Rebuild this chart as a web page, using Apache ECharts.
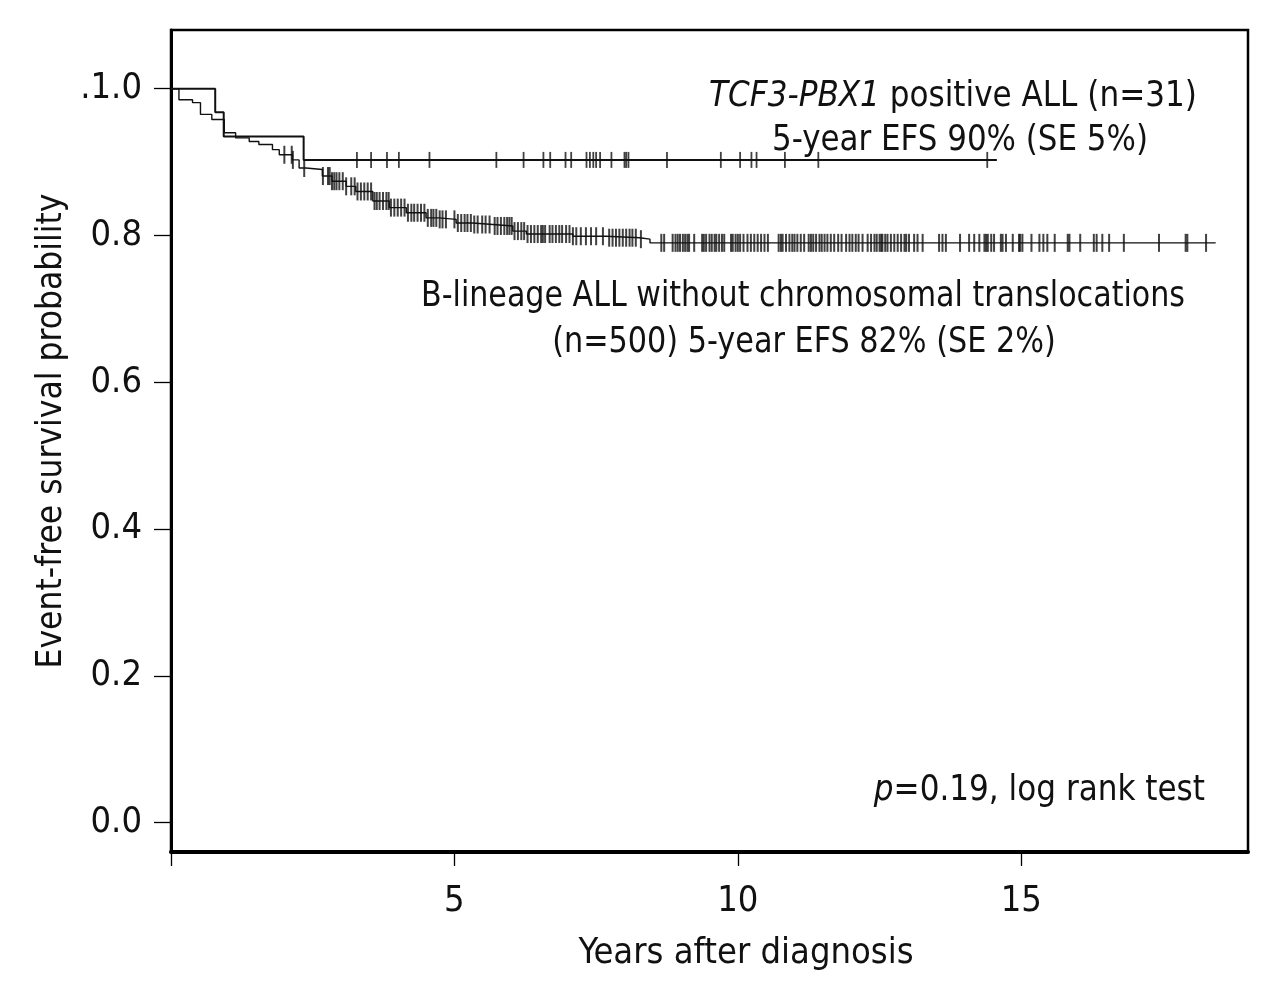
<!DOCTYPE html>
<html>
<head>
<meta charset="utf-8">
<script src="https://cdn.jsdelivr.net/npm/echarts@6/dist/echarts.min.js"></script>
<style>
html,body{margin:0;padding:0;background:#fff;}
#chart{width:1280px;height:991px;}
</style>
</head>
<body>
<div id="chart"></div>
<script>
// Kaplan-Meier step data: [years, survival after event]
const tcfEvents = [[0, 1.0], [0.78, 0.968], [0.93, 0.935], [2.34, 0.903], [14.57, 0.903]];
const tcfCensored = [3.28, 3.53, 3.81, 4.02, 4.56, 5.74, 6.22, 6.57, 6.69, 6.96, 7.06, 7.33, 7.39, 7.45, 7.50, 7.57, 7.77, 8.00, 8.03, 8.07, 8.75, 9.70, 10.04, 10.24, 10.33, 10.83, 11.42, 14.40];

const bEvents = [[0, 1.0], [0.14, 0.985], [0.38, 0.981], [0.52, 0.965], [0.72, 0.958], [0.94, 0.940], [1.14, 0.933], [1.38, 0.928], [1.55, 0.924], [1.79, 0.917], [1.91, 0.910], [2.14, 0.903], [2.26, 0.892], [2.38, 0.890], [2.67, 0.881], [2.84, 0.874], [3.09, 0.867], [3.26, 0.860], [3.56, 0.847], [3.85, 0.838], [4.15, 0.831], [4.50, 0.824], [4.73, 0.822], [5.03, 0.817], [5.32, 0.815], [5.68, 0.813], [6.03, 0.806], [6.27, 0.802], [7.09, 0.799], [7.68, 0.797], [8.27, 0.795], [8.45, 0.790], [18.43, 0.790]];
const bCensored = [2.00, 2.13, 2.15, 2.35, 2.68, 2.77, 2.80, 2.84, 2.88, 2.92, 2.97, 3.03, 3.09, 3.18, 3.24, 3.29, 3.35, 3.41, 3.47, 3.53, 3.59, 3.63, 3.68, 3.74, 3.80, 3.84, 3.88, 3.94, 4.00, 4.06, 4.12, 4.18, 4.24, 4.29, 4.35, 4.41, 4.47, 4.53, 4.59, 4.63, 4.68, 4.74, 4.79, 4.85, 5.00, 5.06, 5.12, 5.18, 5.23, 5.29, 5.35, 5.41,
  5.49, 5.55, 5.62, 5.71, 5.76, 5.82, 5.88, 5.93, 5.97, 6.01, 6.06, 6.12, 6.18, 6.23, 6.29, 6.35, 6.41, 6.47, 6.53, 6.56, 6.60, 6.68, 6.73, 6.79, 6.85, 6.90, 6.97, 7.03, 7.09, 7.15, 7.23, 7.32, 7.41, 7.50, 7.62, 7.73, 7.79, 7.85, 7.91, 7.97, 8.03, 8.09, 8.14, 8.20, 8.29,
  8.65, 8.70, 8.85, 8.90, 8.94, 8.98, 9.03, 9.07, 9.11, 9.14, 9.23, 9.37, 9.40, 9.44, 9.50, 9.54, 9.59, 9.62, 9.67, 9.72, 9.76, 9.88, 9.91, 9.96, 10.00, 10.04, 10.10, 10.17, 10.23, 10.29, 10.35, 10.41, 10.47, 10.53, 10.72, 10.76, 10.79, 10.85, 10.91, 10.96, 11.00, 11.05, 11.11, 11.17, 11.25, 11.29, 11.33, 11.38, 11.44, 11.48, 11.53, 11.58, 11.64, 11.70,
  11.77, 11.83, 11.91, 11.97, 12.02, 12.08, 12.13, 12.20, 12.29, 12.35, 12.41, 12.45, 12.50, 12.53, 12.55, 12.60, 12.64, 12.70, 12.76, 12.82, 12.88, 12.94, 12.97, 13.02, 13.11, 13.17, 13.26, 13.55, 13.61, 13.67, 13.92, 14.08, 14.17, 14.26, 14.35, 14.38, 14.41, 14.47, 14.52, 14.64, 14.67, 14.73, 14.85, 14.96,
  14.98, 15.02, 15.18, 15.32, 15.39, 15.46, 15.59, 15.82, 15.85, 16.04, 16.28, 16.33, 16.43, 16.55, 16.81, 17.43, 17.90, 17.93, 18.26];

const yTicks = [0, 0.2, 0.4, 0.6, 0.8, 1.0];
const yTickLabels = ['0.0', '0.2', '0.4', '0.6', '0.8', '.1.0'];
const xTicks = [0, 5, 10, 15];
const xTickLabels = ['5', '10', '15'];

function survivalAt(events, t) {
  let s = events[0][1];
  for (const e of events) { if (e[0] <= t) s = e[1]; else break; }
  return s;
}
const tcfMarks = tcfCensored.map(t => [t, survivalAt(tcfEvents, t)]);
const bMarks = bCensored.map(t => [t, survivalAt(bEvents, t)]);

const FONT = "'Liberation Sans Narrow', 'DejaVu Sans Condensed', 'Arial Narrow', sans-serif";
const chart = echarts.init(document.getElementById('chart'), null, {renderer: 'canvas'});

function note(text, x, y, align, sx) {
  return {type: 'text', x: x, y: y, scaleX: sx, style: {text: text, align: align, verticalAlign: 'middle', fontFamily: FONT, fontSize: 36, fill: '#111',
    rich: {i: {fontStyle: 'italic', fontFamily: FONT, fontSize: 36, fill: '#111'}}}};
}

chart.setOption({
  animation: false,
  backgroundColor: '#fff',
  grid: {left: 171, right: 32, top: 30, bottom: 139, show: true, borderColor: '#000', borderWidth: 2.5, backgroundColor: 'transparent'},
  xAxis: {
    type: 'value', min: 0, max: 19,
    name: 'Years after diagnosis', nameLocation: 'middle', nameGap: 84,
    nameTextStyle: {fontFamily: FONT, fontSize: 36, color: '#111', padding: [0, 0, 0, 73]},
    axisLine: {show: true, onZero: false, lineStyle: {color: '#000', width: 4}},
    axisTick: {show: true, customValues: xTicks, length: 14, lineStyle: {color: '#000', width: 1.3}},
    axisLabel: {customValues: xTickLabels.map(Number), fontFamily: FONT, fontSize: 36, color: '#111', margin: 32},
    splitLine: {show: false}
  },
  yAxis: {
    type: 'value', min: -0.04, max: 1.08,
    name: 'Event-free survival probability', nameLocation: 'middle', nameGap: 102, nameRotate: 90,
    nameTextStyle: {fontFamily: FONT, fontSize: 35, color: '#111', padding: [0, 0, 0, 20]},
    axisLine: {show: true, onZero: false, lineStyle: {color: '#000', width: 3}},
    axisTick: {show: true, customValues: yTicks, length: 17, lineStyle: {color: '#000', width: 1.3}},
    axisLabel: {customValues: yTicks, fontFamily: FONT, fontSize: 36, color: '#111', margin: 29,
      formatter: v => yTickLabels[yTicks.findIndex(y => Math.abs(y - v) < 1e-6)]},
    splitLine: {show: false}
  },
  series: [
    {type: 'line', name: 'B-lineage', data: bEvents, step: 'end', showSymbol: false, lineStyle: {color: '#111', width: 1.4}, z: 2},
    {type: 'scatter', data: bMarks, symbol: 'rect', symbolSize: [2, 18], itemStyle: {color: '#111'}, z: 3},
    {type: 'line', name: 'TCF3-PBX1', data: tcfEvents, step: 'end', showSymbol: false, lineStyle: {color: '#111', width: 2}, z: 4},
    {type: 'scatter', data: tcfMarks, symbol: 'rect', symbolSize: [1.8, 16], itemStyle: {color: '#111'}, z: 5}
  ],
  graphic: [
    note('{i|TCF3-PBX1} positive ALL (n=31)', 953, 97, 'center', 0.96),
    note('5-year EFS 90% (SE 5%)', 960, 141, 'center', 0.955),
    note('B-lineage ALL without chromosomal translocations', 803, 297, 'center', 0.93),
    note('(n=500) 5-year EFS 82% (SE 2%)', 804, 343, 'center', 0.935),
    note('{i|p}=0.19, log rank test', 1205, 791, 'right', 0.96)
  ]
});
</script>
</body>
</html>
